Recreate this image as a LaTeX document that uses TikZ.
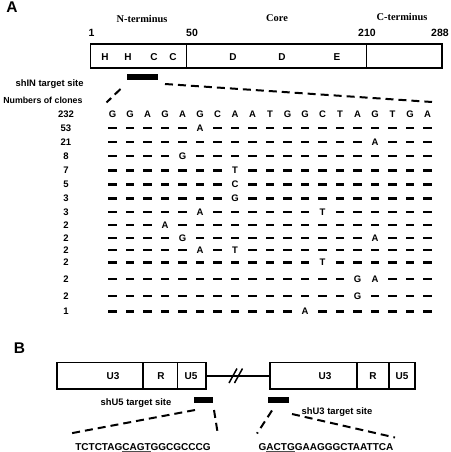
\documentclass[tikz,border=0pt]{standalone}
\usepackage{fontspec}
\setmainfont{Liberation Sans}
\newfontfamily\serifface{Liberation Serif}
\newcommand\seqrow[4]{%
  \node[cell] (cnt#1) at (66,#2) {#3};
  \foreach \tok [count=\ci from 0] in {#4} {%
    \if\tok-%
      \fill ({112.5+17.5*\ci-4.2},{#2-1.15}) rectangle ({112.5+17.5*\ci+4.2},{#2+1.15});%
    \else
      \node[cell] (r#1c\ci) at ({112.5+17.5*\ci},#2) {\tok};%
    \fi
  }%
}
\newsavebox\ulnbox
\newcommand\uln[1]{\sbox\ulnbox{#1}\rlap{\color{black!70}\rule[-1.5pt]{\wd\ulnbox}{0.85pt}}\usebox\ulnbox}
\begin{document}
\begin{tikzpicture}[x=1pt,y=-1pt,
  every node/.style={inner sep=0pt, outer sep=0pt, text depth=0pt},
  panel/.style={font=\bfseries\fontsize{15.5}{18}\selectfont, text height=11.2pt},
  num/.style={font=\bfseries\fontsize{10.5}{12}\selectfont, text height=7.5pt},
  dom/.style={font=\serifface\bfseries\fontsize{10.4}{12}\selectfont, text height=6.9pt},
  inbox/.style={font=\bfseries\fontsize{10}{12}\selectfont, text height=7.2pt},
  cell/.style={font=\bfseries\fontsize{9.5}{11}\selectfont, text height=6.8pt},
  lab/.style={font=\bfseries\fontsize{9.4}{11}\selectfont, text height=6.8pt},
  seqtxt/.style={font=\bfseries\fontsize{10}{12}\selectfont, text height=7.2pt, text depth=1.5pt},
  seg/.style={draw, line width=1.6pt, minimum height=#1},
  seg/.default=25pt,
  bar/.style={fill=black},
  dline/.style={line width=2pt, dash pattern=on 8pt off 5pt},
]
\useasboundingbox (0,0) rectangle (450,452);

% ---------------- Panel A ----------------
\node[panel] (pA) at (12,6.5) {A};

\node[dom] (nterm) at (142,19.5) {N-terminus};
\node[dom] (core) at (277,18) {Core};
\node[dom] (cterm) at (402,17.5) {C-terminus};

\node[num] (p1) at (91.5,33) {1};
\node[num] (p50) at (192,33) {50};
\node[num] (p210) at (367,33) {210};
\node[num] (p288) at (440,33) {288};

\node[seg=24pt, minimum width=96pt] (dN) at (138.5,56) {};
\node[seg=24pt, minimum width=180pt] (dC) at (276.5,56) {};
\node[seg=24pt, minimum width=75.5pt] (dT) at (404.25,56) {};

\node[inbox] (h1) at (105,57) {H};
\node[inbox] (h2) at (128,57) {H};
\node[inbox] (c1) at (154,57) {C};
\node[inbox] (c2) at (173,57) {C};
\node[inbox] (d1) at (233,57) {D};
\node[inbox] (d2) at (282,57) {D};
\node[inbox] (e1) at (337,57) {E};

\node[bar, minimum width=31pt, minimum height=6pt] (shin) at (142.2,77) {};
\node[lab, anchor=east] (shinlab) at (83.5,83.5) {shIN target site};
\node[lab, anchor=east, font=\bfseries\fontsize{8.8}{11}\selectfont] (clones) at (82.5,100) {Numbers of clones};

\coordinate (zlA) at (120.5,89);
\coordinate (zlB) at (106.5,102.5);
\coordinate (zrA) at (165,84);
\coordinate (zrB) at (432,102);
\draw[dline] (zlA) -- (zlB);
\draw[dline] (zrA) -- (zrB);

\seqrow{h}{114.5}{232}{G,G,A,G,A,G,C,A,A,T,G,G,C,T,A,G,T,G,A}
\seqrow{a}{128}{53}{-,-,-,-,-,A,-,-,-,-,-,-,-,-,-,-,-,-,-}
\seqrow{b}{142}{21}{-,-,-,-,-,-,-,-,-,-,-,-,-,-,-,A,-,-,-}
\seqrow{c}{156}{8}{-,-,-,-,G,-,-,-,-,-,-,-,-,-,-,-,-,-,-}
\seqrow{d}{170.5}{7}{-,-,-,-,-,-,-,T,-,-,-,-,-,-,-,-,-,-,-}
\seqrow{e}{184.5}{5}{-,-,-,-,-,-,-,C,-,-,-,-,-,-,-,-,-,-,-}
\seqrow{f}{198.5}{3}{-,-,-,-,-,-,-,G,-,-,-,-,-,-,-,-,-,-,-}
\seqrow{g}{212}{3}{-,-,-,-,-,A,-,-,-,-,-,-,T,-,-,-,-,-,-}
\seqrow{i}{225}{2}{-,-,-,A,-,-,-,-,-,-,-,-,-,-,-,-,-,-,-}
\seqrow{j}{238}{2}{-,-,-,-,G,-,-,-,-,-,-,-,-,-,-,A,-,-,-}
\seqrow{k}{250}{2}{-,-,-,-,-,A,-,T,-,-,-,-,-,-,-,-,-,-,-}
\seqrow{l}{262.5}{2}{-,-,-,-,-,-,-,-,-,-,-,-,T,-,-,-,-,-,-}
\seqrow{m}{279}{2}{-,-,-,-,-,-,-,-,-,-,-,-,-,-,G,A,-,-,-}
\seqrow{n}{296}{2}{-,-,-,-,-,-,-,-,-,-,-,-,-,-,G,-,-,-,-}
\seqrow{o}{311.5}{1}{-,-,-,-,-,-,-,-,-,-,-,A,-,-,-,-,-,-,-}

% ---------------- Panel B ----------------
\node[panel] (pB) at (19.5,347.5) {B};

\node[seg=26.5pt, minimum width=86.3pt] (u3a) at (99.85,375.75) {};
\node[seg=26.5pt, minimum width=34.5pt] (ra) at (160.25,375.75) {};
\node[seg=26.5pt, minimum width=28.5pt] (u5a) at (191.75,375.75) {};
\node[seg=26.5pt, minimum width=87pt] (u3b) at (313.5,375.75) {};
\node[seg=26.5pt, minimum width=32pt] (rb) at (373,375.75) {};
\node[seg=26.5pt, minimum width=26pt] (u5b) at (402,375.75) {};

\node[inbox] (tu3a) at (113,376) {U3};
\node[inbox] (tra) at (161,376) {R};
\node[inbox] (tu5a) at (191,376) {U5};
\node[inbox] (tu3b) at (325,376) {U3};
\node[inbox] (trb) at (373,376) {R};
\node[inbox] (tu5b) at (402,376) {U5};

\draw[line width=1.6pt] (u5a.east) -- (u3b.west);
\draw[line width=1.5pt] (229,383) -- (237,368.5);
\draw[line width=1.5pt] (234.5,383) -- (242.5,368.5);

\node[bar, minimum width=19pt, minimum height=5.5pt] (shu5) at (203.5,400.2) {};
\node[bar, minimum width=20.5pt, minimum height=5.7pt] (shu3) at (278.7,399.8) {};
\node[lab] (shu5lab) at (136,402.5) {shU5 target site};
\node[lab] (shu3lab) at (337,411.5) {shU3 target site};

\coordinate (b1a) at (195,410);
\coordinate (b1b) at (70,433.5);
\coordinate (b2a) at (214,410);
\coordinate (b2b) at (218,435);
\coordinate (b3a) at (272,410.5);
\coordinate (b3b) at (257,433.5);
\coordinate (b4a) at (292,414);
\coordinate (b4b) at (395,437.5);
\draw[dline] (b1a) -- (b1b);
\draw[dline] (b2a) -- (b2b);
\draw[dline] (b3a) -- (b3b);
\draw[dline] (b4a) -- (b4b);

\node[seqtxt, anchor=base] (seq5) at (143,450) {TCTCTAG\uln{CAGT}GGCGCCCG};
\node[seqtxt, anchor=base] (seq3) at (326,450) {G\uln{ACTG}GAAGGGCTAATTCA};
\end{tikzpicture}
\end{document}
